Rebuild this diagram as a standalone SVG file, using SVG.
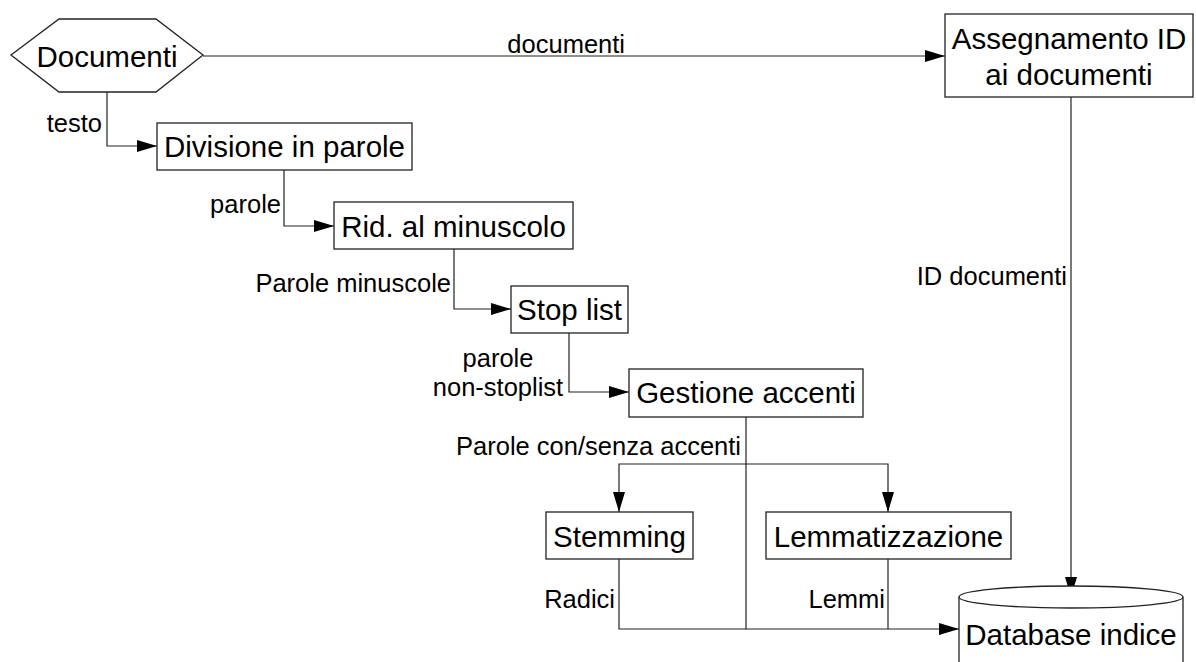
<svg xmlns="http://www.w3.org/2000/svg" width="1196" height="662" viewBox="0 0 1196 662">
<defs>
<marker id="arr" markerUnits="userSpaceOnUse" markerWidth="20" markerHeight="12" refX="20" refY="6" orient="auto">
<path d="M0,0 L20,6 L0,12 z" fill="#000"/>
</marker>
<style>
.box{fill:#fff;stroke:#222;stroke-width:1.3}
.node{font-family:"Liberation Sans",Arial,sans-serif;font-size:29.5px;fill:#000;text-anchor:middle}
.lbl{font-family:"Liberation Sans",Arial,sans-serif;font-size:25.5px;fill:#000;text-anchor:end}
.c{fill:none;stroke:#222;stroke-width:1.2}
</style>
</defs>
<rect width="1196" height="662" fill="#fff"/>
<g id="connectors">
<path class="c" d="M203,56 H945" marker-end="url(#arr)"/>
<path class="c" d="M107,92 V146 H157" marker-end="url(#arr)"/>
<path class="c" d="M284,170 V226 H334" marker-end="url(#arr)"/>
<path class="c" d="M454,249 V309 H511" marker-end="url(#arr)"/>
<path class="c" d="M569,333 V392 H629" marker-end="url(#arr)"/>
<path class="c" d="M746,417 V464 H619 V512" marker-end="url(#arr)"/>
<path class="c" d="M746,464 H888 V512" marker-end="url(#arr)"/>
<path class="c" d="M746,464 V629 H959" marker-end="url(#arr)"/>
<path class="c" d="M619,559 V629 H746"/>
<path class="c" d="M888,559 V629"/>
<path class="c" d="M1071,97 V597" marker-end="url(#arr)"/>
<text class="lbl" x="625" y="53">documenti</text>
<text class="lbl" x="102" y="132">testo</text>
<text class="lbl" x="281" y="213">parole</text>
<text class="lbl" x="451" y="292">Parole minuscole</text>
<text class="lbl" x="498" y="367" style="text-anchor:middle">parole</text>
<text class="lbl" x="498" y="396" style="text-anchor:middle">non-stoplist</text>
<text class="lbl" x="741" y="455">Parole con/senza accenti</text>
<text class="lbl" x="615" y="608">Radici</text>
<text class="lbl" x="885" y="608">Lemmi</text>
<text class="lbl" x="1067" y="285">ID documenti</text>
</g>
<g id="documenti">
<polygon class="box" points="11,55 59,19 156,19 203,55 156,92 59,92"/>
<text class="node" x="107" y="67">Documenti</text>
</g>
<g id="divisione">
<rect class="box" x="157" y="123" width="255" height="47"/>
<text class="node" x="284.5" y="157">Divisione in parole</text>
</g>
<g id="riduzione">
<rect class="box" x="334" y="202" width="239" height="47"/>
<text class="node" x="453.5" y="237">Rid. al minuscolo</text>
</g>
<g id="stoplist">
<rect class="box" x="511" y="286" width="117" height="47"/>
<text class="node" x="569.5" y="320">Stop list</text>
</g>
<g id="gestione">
<rect class="box" x="629" y="369" width="234" height="48"/>
<text class="node" x="746" y="403">Gestione accenti</text>
</g>
<g id="stemming">
<rect class="box" x="546" y="512" width="147" height="47"/>
<text class="node" x="619.5" y="547">Stemming</text>
</g>
<g id="lemmatizzazione">
<rect class="box" x="766" y="512" width="245" height="47"/>
<text class="node" x="888.5" y="547">Lemmatizzazione</text>
</g>
<g id="assegnamento">
<rect class="box" x="945" y="14" width="248" height="83"/>
<text class="node" x="1069" y="49">Assegnamento ID</text>
<text class="node" x="1069" y="85">ai documenti</text>
</g>
<g id="database">
<path class="box" d="M959,597 V662 M1183,597 V662"/>
<ellipse class="box" cx="1071" cy="597" rx="112" ry="11"/>
<text class="node" x="1071" y="645">Database indice</text>
</g>
</svg>
